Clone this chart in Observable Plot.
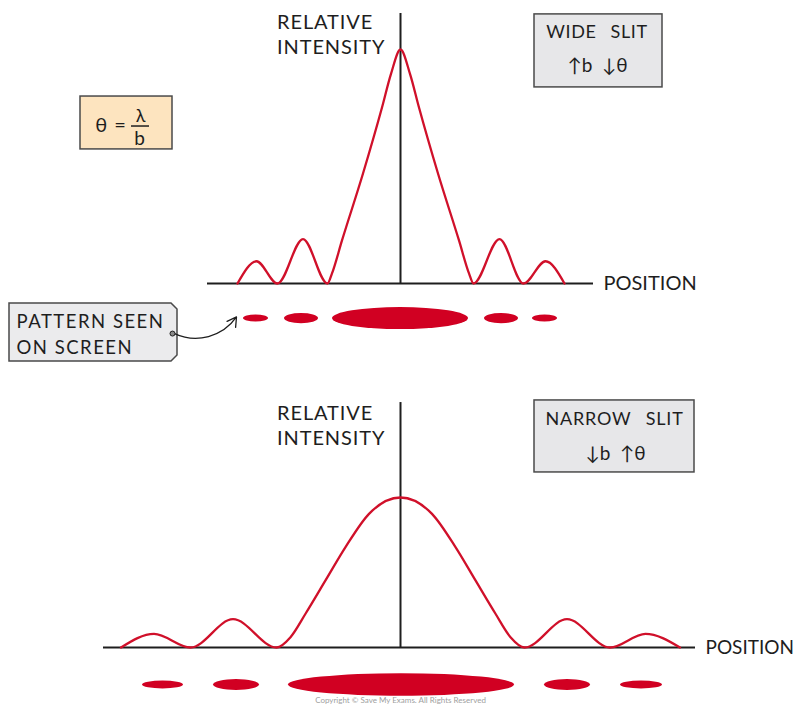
<!DOCTYPE html>
<html>
<head>
<meta charset="utf-8">
<script src="https://cdn.jsdelivr.net/npm/d3@7"></script>
<script src="https://cdn.jsdelivr.net/npm/@observablehq/plot@0.6"></script>
<style>
  body { margin: 0; background: #fff; }
  #chart svg { display: block; }
</style>
</head>
<body>
<div id="chart"></div>
<script>
// Single-slit diffraction: relative intensity against position on the screen,
// for a wide slit (top) and a narrow slit (bottom).

// Wide slit profile: zeros, side maxima and points on the central maximum
const widePosition  = [-3.26, -2.88, -2.46, -1.95, -1.46, -1.37, -1.17, -0.75, -0.37, -0.19, 0, 0.19, 0.37, 0.75, 1.17, 1.37, 1.46, 1.98, 2.46, 2.90, 3.28];
const wideIntensity = [0, 0.095, 0, 0.19, 0, 0.043, 0.184, 0.47, 0.752, 0.896, 1, 0.896, 0.752, 0.47, 0.184, 0.043, 0, 0.19, 0, 0.095, 0];

// Narrow slit profile
const narrowPosition  = [-5.59, -4.93, -4.2, -3.35, -2.48, -2.2, -1.9, -1.5, -1.1, -0.63, 0, 0.63, 1.1, 1.5, 1.9, 2.2, 2.48, 3.33, 4.19, 4.9, 5.59];
const narrowIntensity = [0, 0.091, 0, 0.189, 0, 0.069, 0.225, 0.447, 0.669, 0.891, 1, 0.891, 0.669, 0.447, 0.225, 0.069, 0, 0.189, 0, 0.091, 0];

// Bright fringes seen on the screen: extent along the screen and band thickness
const wideSpotFrom = [-3.14, -2.32, -1.36, 1.68, 2.64];
const wideSpotTo   = [-2.64, -1.64, 1.36, 2.36, 3.14];
const wideSpotBand = [0.030, 0.043, 0.094, 0.043, 0.030];

const narrowSpotFrom = [-5.16, -3.74, -2.24, 2.88, 4.40];
const narrowSpotTo   = [-4.34, -2.82, 2.28, 3.80, 5.24];
const narrowSpotBand = [0.053, 0.073, 0.150, 0.073, 0.053];

const curveRed = "#d0102a";
const spotRed = "#d10022";
const ink = "#1e1e1e";
const boxGrey = "#e7e7e9";
const font = "Lato, 'Open Sans', sans-serif";

const profile = (xs, ys) => xs.map((x, i) => ({x, y: ys[i]}));
const fringes = (from, to, band) => from.map((f, i) => ({from: f, to: to[i], band: band[i]}));

// Turn each fringe rectangle into an ellipse filling its box
function ellipses(index, scales, values, dimensions, context, next) {
  const g = next(index, scales, values, dimensions, context);
  for (const r of g.querySelectorAll("rect")) {
    r.setAttribute("rx", +r.getAttribute("width") / 2);
    r.setAttribute("ry", +r.getAttribute("height") / 2);
  }
  return g;
}

// Label tag: a box with its two right-hand corners clipped
function tag(index, scales, values, dimensions, context, next) {
  const g = next(index, scales, values, dimensions, context);
  for (const r of g.querySelectorAll("rect")) {
    const x = +r.getAttribute("x"), y = +r.getAttribute("y");
    const w = +r.getAttribute("width"), h = +r.getAttribute("height"), c = 6;
    const p = document.createElementNS("http://www.w3.org/2000/svg", "path");
    p.setAttribute("d", `M${x},${y}H${x + w - c}L${x + w},${y + c}V${y + h - c}L${x + w - c},${y + h}H${x}Z`);
    r.replaceWith(p);
  }
  return g;
}

// Hand-lettered look: spread the capitals a little
const spaced = (px) => (index, scales, values, dimensions, context, next) => {
  const g = next(index, scales, values, dimensions, context);
  g.style.letterSpacing = `${px}px`;
  return g;
};

function panel({height, baseline, peak, curve, spots, spotRow, axisFrom, axisTo, axisTop, labelY, positionSize, notes}) {
  return Plot.plot({
    width: 794,
    height,
    margin: 0,
    style: {fontFamily: font, color: ink, background: "transparent", overflow: "visible"},
    x: {domain: [0, 1], range: [400, 450], axis: null},
    y: {domain: [0, 1], range: [baseline, peak], axis: null},
    marks: [
      // axes
      Plot.ruleY([0], {x1: axisFrom, x2: axisTo, stroke: ink, strokeWidth: 2}),
      Plot.ruleX([0], {y1: 0, y2: axisTop, stroke: ink, strokeWidth: 2}),
      Plot.text(["RELATIVE\nINTENSITY"], {text: d => d, x: -2.47, y: labelY, textAnchor: "start", lineAnchor: "middle", lineHeight: 1.25, fontSize: 20, fill: ink, render: spaced(0.9)}),
      Plot.text(["POSITION"], {text: d => d, x: axisTo, y: 0, dx: 10, textAnchor: "start", fontSize: positionSize, fill: ink}),
      // intensity profile
      Plot.line(curve, {x: "x", y: "y", curve: "monotone-x", stroke: curveRed, strokeWidth: 2.3}),
      // fringes on the screen
      Plot.rect(spots, {x1: "from", x2: "to", y1: d => spotRow - d.band / 2, y2: d => spotRow + d.band / 2, fill: spotRed, render: ellipses}),
      ...notes
    ]
  });
}

const infoBox = (x1, x2, y1, y2, fill, render) =>
  Plot.rect([0], {x1, x2, y1, y2, fill, stroke: "#4a4a4a", strokeWidth: 1.5, render});

const wideChart = panel({
  height: 370, baseline: 283, peak: 49,
  curve: profile(widePosition, wideIntensity),
  spots: fringes(wideSpotFrom, wideSpotTo, wideSpotBand),
  spotRow: -0.15,
  axisFrom: -3.86, axisTo: 3.86, axisTop: 1.154,
  labelY: 1.068,
  positionSize: 20,
  notes: [
    // wide slit note
    infoBox(2.68, 5.24, 1.15, 0.838, boxGrey),
    Plot.text(["WIDE\u2003SLIT"], {text: d => d, x: 3.93, y: 1.075, fontSize: 18, fill: ink, render: spaced(0.6)}),
    Plot.text(["\u2191b\u2002\u2193\u03b8"], {text: d => d, x: 3.94, y: 0.93, fontSize: 19, fill: ink}),
    // θ = λ / b
    infoBox(-6.4, -4.56, 0.799, 0.573, "#fde4bf"),
    Plot.text(["\u03b8 ="], {text: d => d, x: -5.79, y: 0.676, fontSize: 20, fill: ink, render: spaced(1)}),
    Plot.text(["\u03bb"], {text: d => d, x: -5.2, y: 0.714, fontSize: 18, fill: ink}),
    Plot.ruleY([0.673], {x1: -5.38, x2: -5.02, stroke: ink, strokeWidth: 1.5}),
    Plot.text(["b"], {text: d => d, x: -5.22, y: 0.62, fontSize: 19, fill: ink}),
    // screen label and pointer
    infoBox(-7.82, -4.46, -0.0855, -0.333, "#ebebed", tag),
    Plot.text(["PATTERN SEEN\nON SCREEN"], {text: d => d, x: -7.68, y: -0.212, textAnchor: "start", lineAnchor: "middle", lineHeight: 1.4, fontSize: 18.5, fill: ink, render: spaced(1.5)}),
    Plot.arrow([0], {x1: -4.52, y1: -0.214, x2: -3.28, y2: -0.143, bend: -40, headLength: 12, stroke: ink, strokeWidth: 1.3}),
    Plot.dot([0], {x: -4.56, y: -0.214, r: 2.5, fill: "#8a8a8a", stroke: ink, strokeWidth: 1})
  ]
});

const narrowChart = panel({
  height: 334, baseline: 277, peak: 127,
  curve: profile(narrowPosition, narrowIntensity),
  spots: fringes(narrowSpotFrom, narrowSpotTo, narrowSpotBand),
  spotRow: -0.25,
  axisFrom: -5.94, axisTo: 5.9, axisTop: 1.633,
  labelY: 1.49,
  positionSize: 19,
  notes: [
    infoBox(2.68, 5.88, 1.647, 1.167, boxGrey),
    Plot.text(["NARROW\u2003SLIT"], {text: d => d, x: 4.28, y: 1.523, fontSize: 18, fill: ink, render: spaced(0.8)}),
    Plot.text(["\u2193b\u2002\u2191\u03b8"], {text: d => d, x: 4.3, y: 1.29, fontSize: 19, fill: ink}),
    Plot.text(["Copyright \u00a9 Save My Exams. All Rights Reserved"], {text: d => d, x: 0, y: -0.355, fontSize: 8, fill: "#a0a0a0"})
  ]
});

document.getElementById("chart").append(wideChart, narrowChart);
</script>
</body>
</html>
